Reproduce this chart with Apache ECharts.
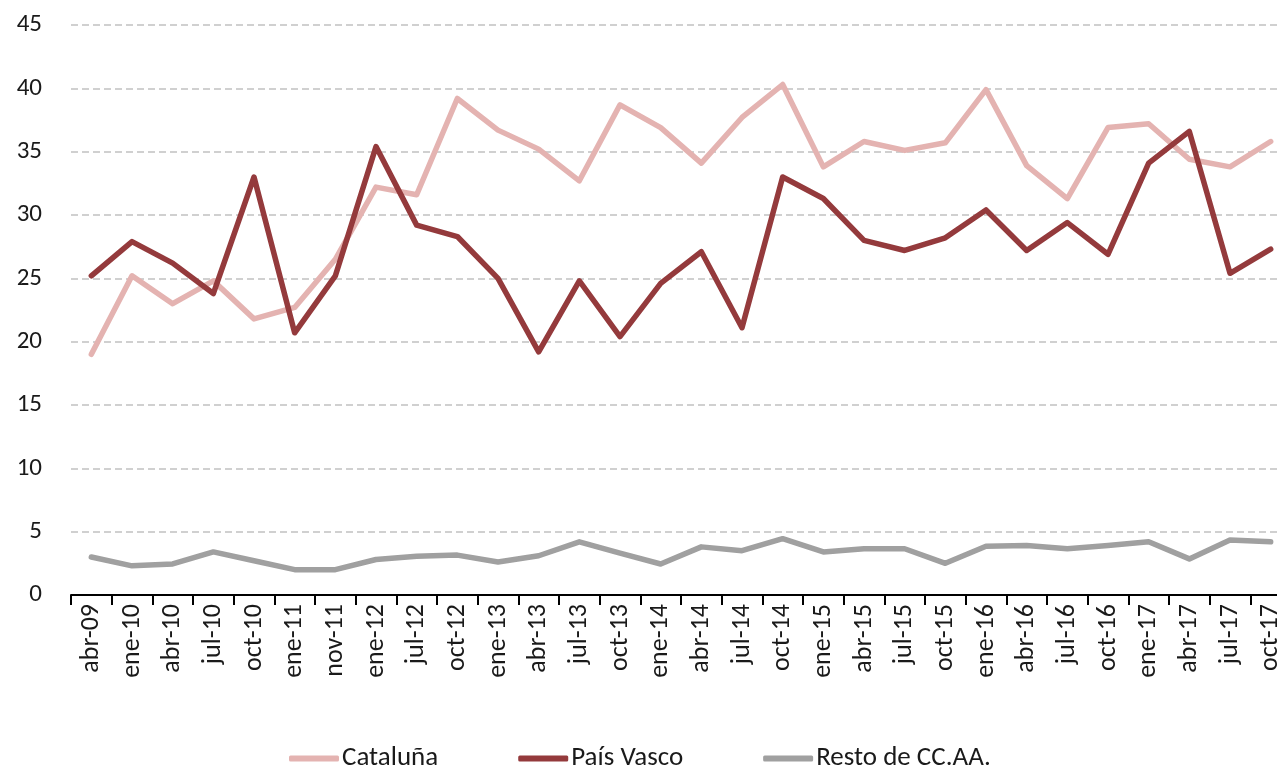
<!DOCTYPE html>
<html>
<head>
<meta charset="utf-8">
<script src="https://cdn.jsdelivr.net/npm/echarts@6/dist/echarts.min.js"></script>
<style>
html,body{margin:0;padding:0;background:#fff;}
#chart{width:1277px;height:768px;}
</style>
</head>
<body>
<div id="chart"></div>
<script>
const categories = ['abr-09','ene-10','abr-10','jul-10','oct-10','ene-11','nov-11','ene-12','jul-12','oct-12','ene-13','abr-13','jul-13','oct-13','ene-14','abr-14','jul-14','oct-14','ene-15','abr-15','jul-15','oct-15','ene-16','abr-16','jul-16','oct-16','ene-17','abr-17','jul-17','oct-17'];
const cataluna = [19.0, 25.2, 23.0, 24.8, 21.8, 22.7, 26.5, 32.2, 31.6, 39.2, 36.7, 35.2, 32.7, 38.7, 36.9, 34.1, 37.7, 40.3, 33.8, 35.8, 35.1, 35.7, 39.9, 33.9, 31.3, 36.9, 37.2, 34.4, 33.8, 35.8];
const paisVasco = [25.2, 27.9, 26.2, 23.8, 33.0, 20.7, 25.2, 35.4, 29.2, 28.3, 25.0, 19.2, 24.8, 20.4, 24.6, 27.1, 21.1, 33.0, 31.3, 28.0, 27.2, 28.2, 30.4, 27.2, 29.4, 26.9, 34.1, 36.6, 25.4, 27.3];
const resto = [3.0, 2.3, 2.45, 3.4, 2.7, 2.0, 2.0, 2.8, 3.05, 3.15, 2.6, 3.1, 4.2, 3.3, 2.45, 3.8, 3.5, 4.45, 3.4, 3.65, 3.65, 2.5, 3.85, 3.9, 3.65, 3.9, 4.2, 2.85, 4.35, 4.2];
const seriesNames = ['Cataluña', 'País Vasco', 'Resto de CC.AA.'];
const yTicks = {min: 0, max: 45, interval: 5};

const FONT = 'Carlito, Lato, "Open Sans", sans-serif';
const chart = echarts.init(document.getElementById('chart'), null, {renderer: 'canvas'});
const colors = ['#E4B3B1', '#943A3C', '#A0A0A0'];
const dataSets = [cataluna, paisVasco, resto];

chart.setOption({
  animation: false,
  backgroundColor: '#ffffff',
  color: colors,
  grid: {left: 71, right: -14, top: 25, bottom: 173, containLabel: false, outerBoundsMode: 'none'},
  legend: {
    data: seriesNames,
    bottom: -9,
    left: 284,
    icon: 'roundRect',
    itemWidth: 50,
    itemHeight: 6,
    itemGap: 80,
    textStyle: {fontFamily: FONT, fontSize: 27, color: '#1a1a1a', padding: [0, 0, 0, -2]}
  },
  xAxis: {
    type: 'category',
    data: categories,
    boundaryGap: true,
    axisLine: {lineStyle: {color: '#000', width: 2}},
    axisTick: {show: true, length: 10, lineStyle: {color: '#000', width: 2}},
    axisLabel: {rotate: 90, interval: 0, margin: 9, fontFamily: FONT, fontSize: 26, color: '#1a1a1a'},
    splitLine: {show: false}
  },
  yAxis: {
    type: 'value',
    min: yTicks.min, max: yTicks.max, interval: yTicks.interval,
    axisLine: {show: false},
    axisTick: {show: false},
    axisLabel: {margin: 29, fontFamily: FONT, fontSize: 25, color: '#1a1a1a'},
    splitLine: {show: true, lineStyle: {color: '#d0d0d0', width: 2, type: [7, 4]}}
  },
  series: seriesNames.map((name, i) => ({
    name: name,
    type: 'line',
    data: dataSets[i],
    symbol: 'none',
    lineStyle: {width: 5.5, color: colors[i], cap: 'round', join: 'round'},
    itemStyle: {color: colors[i]},
    z: 2 + i
  }))
});
</script>
</body>
</html>
